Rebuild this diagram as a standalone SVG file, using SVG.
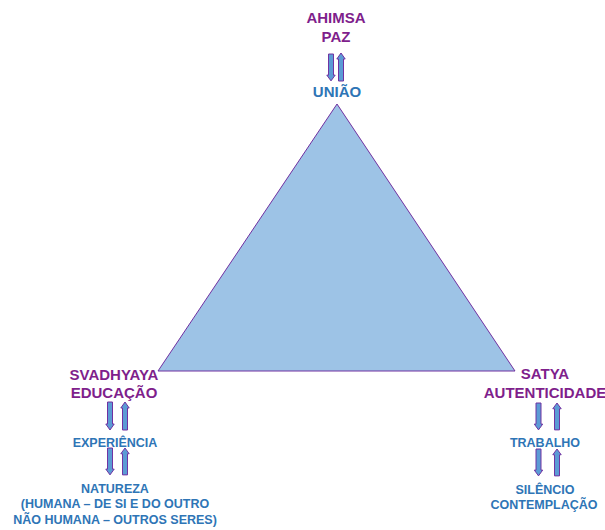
<svg xmlns="http://www.w3.org/2000/svg" xmlns:xlink="http://www.w3.org/1999/xlink" width="605" height="530" viewBox="0 0 605 530">
  <style>
    .t { font-family: "Liberation Sans", Arial, sans-serif; font-weight: bold; text-anchor: middle; }
    .main { font-size: 15px; fill: #7F1F8C; }
    .hub { font-size: 15px; fill: #2E75B6; }
    .sub { font-size: 12.5px; fill: #2E75B6; }
    .arrow { fill: #5B9BD5; stroke: #7030A0; stroke-width: 1; }
    .tri { fill: #9DC3E6; stroke: #7030A0; stroke-width: 1; }
  </style>
  <defs>
    <!-- block arrows, origin at top centre, 28px long -->
    <path id="down" class="arrow" d="M-2.5,0 H2.5 V22 H4.2 L0,28 L-4.2,22 H-2.5 Z"/>
    <path id="up" class="arrow" d="M-2.5,28 H2.5 V6 H4.2 L0,0 L-4.2,6 H-2.5 Z"/>
  </defs>

  <g id="triangle">
    <polygon class="tri" points="337,104 158,371 515,371"/>
  </g>

  <g id="node-top">
    <text class="t main" x="336" y="23">AHIMSA</text>
    <text class="t main" x="336" y="42">PAZ</text>
    <text class="t hub" x="337" y="97">UNIÃO</text>
  </g>

  <g id="node-left">
    <text class="t main" x="114" y="380">SVADHYAYA</text>
    <text class="t main" x="114" y="398">EDUCAÇÃO</text>
    <text class="t sub" x="115" y="447">EXPERIÊNCIA</text>
    <text class="t sub" x="115" y="493">NATUREZA</text>
    <text class="t sub" x="115" y="508">(HUMANA – DE SI E DO OUTRO</text>
    <text class="t sub" x="115" y="524">NÃO HUMANA – OUTROS SERES)</text>
  </g>

  <g id="node-right">
    <text class="t main" x="545" y="379">SATYA</text>
    <text class="t main" x="545" y="398">AUTENTICIDADE</text>
    <text class="t sub" x="545" y="447">TRABALHO</text>
    <text class="t sub" x="545" y="494">SILÊNCIO</text>
    <text class="t sub" x="544" y="509">CONTEMPLAÇÃO</text>
  </g>

  <g id="connectors">
    <use xlink:href="#down" transform="translate(331,54) scale(1,0.96)"/>
    <use xlink:href="#up" transform="translate(341,53)"/>

    <use xlink:href="#down" transform="translate(110,402)"/>
    <use xlink:href="#up" transform="translate(125,402)"/>
    <use xlink:href="#down" transform="translate(110,448) scale(1,0.96)"/>
    <use xlink:href="#up" transform="translate(125,448) scale(1,0.96)"/>

    <use xlink:href="#down" transform="translate(538.5,403) scale(1,0.96)"/>
    <use xlink:href="#up" transform="translate(557,403) scale(1,0.96)"/>
    <use xlink:href="#down" transform="translate(538.5,449) scale(1,0.96)"/>
    <use xlink:href="#up" transform="translate(557,449) scale(1,0.96)"/>
  </g>
</svg>
